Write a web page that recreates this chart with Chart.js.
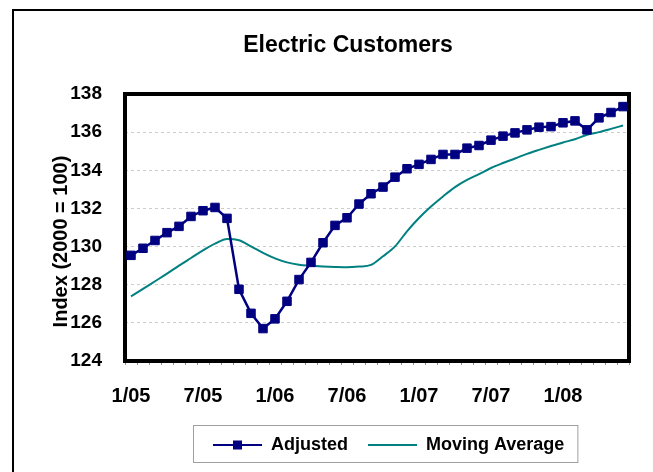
<!DOCTYPE html>
<html>
<head>
<meta charset="utf-8">
<script src="https://cdn.jsdelivr.net/npm/chart.js@4.4.1/dist/chart.umd.min.js"></script>
<style>
  html, body { margin: 0; padding: 0; background: #fff; }
  #wrap { width: 653px; height: 472px; }
</style>
</head>
<body>
<div id="wrap"><canvas id="custChart" width="653" height="472"></canvas></div>
<script>
// ====== Data ======
const months = [
  "1/05", "2/05", "3/05", "4/05", "5/05", "6/05", "7/05", "8/05", "9/05", "10/05", "11/05", "12/05",
  "1/06", "2/06", "3/06", "4/06", "5/06", "6/06", "7/06", "8/06", "9/06", "10/06", "11/06", "12/06",
  "1/07", "2/07", "3/07", "4/07", "5/07", "6/07", "7/07", "8/07", "9/07", "10/07", "11/07", "12/07",
  "1/08", "2/08", "3/08", "4/08", "5/08", "6/08"
];
const tickLabels = ["1/05", "7/05", "1/06", "7/06", "1/07", "7/07", "1/08"];

const adjusted = [
  129.54, 129.91, 130.32, 130.73, 131.06, 131.58, 131.88, 132.05, 131.48, 127.76, 126.50, 125.70,
  126.21, 127.13, 128.27, 129.17, 130.20, 131.11, 131.51, 132.23, 132.77, 133.12, 133.64, 134.08,
  134.31, 134.57, 134.83, 134.83, 135.16, 135.30, 135.58, 135.79, 135.96, 136.12, 136.26, 136.29,
  136.49, 136.59, 136.12, 136.75, 137.03, 137.34
];
const movingAverage = [
  127.39, 127.78, 128.18, 128.58, 129.00, 129.40, 129.80, 130.15, 130.40, 130.33, 130.01, 129.67,
  129.38, 129.17, 129.05, 129.00, 128.96, 128.93, 128.91, 128.95, 129.04, 129.49, 130.01, 130.80,
  131.50, 132.10, 132.63, 133.12, 133.50, 133.80, 134.12, 134.38, 134.62, 134.86, 135.07, 135.27,
  135.46, 135.63, 135.86, 136.00, 136.17, 136.35
];

const navy = "#000080";
const teal = "#008080";

Chart.defaults.font.family = "'Liberation Sans', Arial, sans-serif";
Chart.defaults.color = "#000";

// ====== Frame, plot border, legend extras ======
const framePlugin = {
  id: "frame",
  beforeDraw(chart) {
    const c = chart.ctx;
    c.save();
    c.fillStyle = "#fff";
    c.fillRect(0, 0, chart.width, chart.height);
    c.strokeStyle = "#000";
    c.lineWidth = 2;
    c.strokeRect(13, 10, 700, 500);
    c.restore();
  },
  afterLayout(chart) {
    // put legend where the original has it
    chart.legend.left = 193;
    // y title sits a bit lower than the axis middle in the original
    const s = chart.scales.y;
    if (!s._shifted) {
      const orig = s.drawTitle.bind(s);
      s.drawTitle = function () {
        this.ctx.save();
        this.ctx.translate(0, 14);
        orig();
        this.ctx.restore();
      };
      s._shifted = true;
    }
  },
  beforeDatasetsDraw(chart) {
    const a = chart.chartArea;
    const c = chart.ctx;
    c.save();
    c.strokeStyle = "#000";
    c.lineWidth = 4;
    c.strokeRect(a.left, a.top, a.right - a.left, a.bottom - a.top);
    c.restore();
  },
  afterDraw(chart) {
    const hb = chart.legend.legendHitBoxes;
    if (!hb || !hb.length) return;
    const c = chart.ctx;
    c.save();
    // marker on the "Adjusted" sample line
    c.fillStyle = navy;
    c.fillRect(hb[0].left + 24.5 - 4.5, hb[0].top + 9 - 4.5, 9, 9);
    // legend box
    const last = hb[hb.length - 1];
    c.strokeStyle = "#a0a0a0";
    c.lineWidth = 1;
    c.strokeRect(hb[0].left - 19.5, hb[0].top - 10.5, last.left + last.width + 33 - hb[0].left, 37);
    c.restore();
  }
};

// ====== Chart ======
const ctx = document.getElementById("custChart").getContext("2d");

new Chart(ctx, {
  type: "line",
  data: {
    labels: months,
    datasets: [{
      label: "Adjusted",
      data: adjusted,
      borderColor: navy,
      backgroundColor: navy,
      borderWidth: 2.5,
      pointStyle: "rect",
      pointRadius: 6,
      pointBorderWidth: 1,
      tension: 0
    }, {
      label: "Moving Average",
      data: movingAverage,
      borderColor: teal,
      backgroundColor: teal,
      borderWidth: 2,
      pointRadius: 0,
      cubicInterpolationMode: "monotone"
    }]
  },
  options: {
    responsive: false,
    animation: false,
    devicePixelRatio: 1,
    layout: { padding: { left: 48, right: 5, top: 0, bottom: 8 } },
    plugins: {
      title: {
        display: true,
        text: "Electric Customers",
        font: { size: 23, weight: "bold" },
        color: "#000",
        padding: { top: 31.7, bottom: 34.7 }
      },
      legend: {
        position: "bottom",
        align: "start",
        labels: {
          boxWidth: 49,
          boxHeight: 2,
          padding: 20,
          color: "#000",
          font: { size: 18, weight: "bold" },
          generateLabels(chart) {
            const items = Chart.defaults.plugins.legend.labels.generateLabels(chart);
            items.forEach(it => { it.lineWidth = 0; });
            return items;
          }
        }
      },
      tooltip: { enabled: false }
    },
    scales: {
      x: {
        offset: true,
        grid: {
          offset: true,
          drawOnChartArea: false,
          drawTicks: true,
          tickLength: 4,
          color: "#909090"
        },
        border: { display: false },
        ticks: {
          autoSkip: false,
          maxRotation: 0,
          padding: 19,
          font: { size: 20, weight: "bold" },
          color: "#000",
          callback(v, i) {
            return tickLabels.includes(months[i]) ? months[i] : "";
          }
        },
        afterFit(s) { s.height = 55; }
      },
      y: {
        min: 124,
        max: 138,
        grid: { color: "#cccccc", drawTicks: false, lineWidth: 1 },
        border: { display: false, dash: [3, 3] },
        ticks: {
          stepSize: 2,
          padding: 23,
          font: { size: 19, weight: "bold" },
          color: "#000"
        },
        title: {
          display: true,
          text: "Index (2000 = 100)",
          font: { size: 20, weight: "bold" },
          color: "#000",
          padding: { top: 1, bottom: 0 }
        },
        afterFit(s) { s.width = 77; }
      },
      yR: {
        position: "right",
        grid: { display: false },
        border: { display: false },
        ticks: { display: false },
        afterFit(s) { s.width = 19; }
      }
    }
  },
  plugins: [framePlugin]
});
</script>
</body>
</html>
